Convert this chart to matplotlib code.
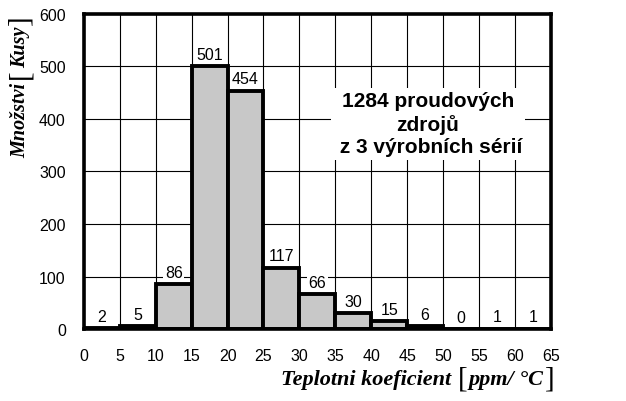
import matplotlib
matplotlib.use("Agg")
import matplotlib.pyplot as plt

# data
bin_edges = [0, 5, 10, 15, 20, 25, 30, 35, 40, 45, 50, 55, 60, 65]
counts = [2, 5, 86, 501, 454, 117, 66, 30, 15, 6, 0, 1, 1]
y_ticks = [0, 100, 200, 300, 400, 500, 600]
note = "1284 proudových\nzdrojů\n z 3 výrobních sérií"

plt.rcParams["font.family"] = ["Liberation Sans", "DejaVu Sans"]

fig = plt.figure(figsize=(6.26, 4.02), dpi=100)
ax = fig.add_axes([0.134, 0.179, 0.746, 0.784])

lefts = bin_edges[:-1]
widths = [bin_edges[i + 1] - bin_edges[i] for i in range(len(lefts))]
bars = ax.bar(lefts, counts, width=widths, align="edge", color="#c8c8c8",
              edgecolor="black", linewidth=2.8, zorder=3)

for b, c in zip(bars, counts):
    ax.annotate(str(c), (b.get_x() + b.get_width() / 2, c), xytext=(0, 3),
                textcoords="offset points", ha="center", va="bottom",
                fontsize=11.5, zorder=4,
                bbox=dict(boxstyle="square,pad=0.1", fc="white", ec="none"))

ax.set_xlim(0, 65)
ax.set_ylim(0, 600)
ax.set_xticks(bin_edges)
ax.set_yticks(y_ticks)
ax.tick_params(length=0, labelsize=11.5)
ax.tick_params(axis="x", pad=14)
ax.tick_params(axis="y", pad=13)
ax.grid(True, color="black", linewidth=0.8, zorder=0)
ax.set_axisbelow(True)
for s in ax.spines.values():
    s.set_linewidth(2.6)
    s.set_zorder(5)

ax.text(0.737, 0.652, note, transform=ax.transAxes, ha="center", va="center",
        fontsize=15, fontweight="bold", linespacing=1.25, zorder=6,
        bbox=dict(boxstyle="square,pad=0.15", fc="white", ec="none"))

# axis labels: bold italic serif words with tall thin brackets
lab = dict(family="Liberation Serif", fontweight="bold", style="italic", fontsize=16)
brk = dict(family="Liberation Serif", fontsize=21)

# x label, built from right to left
prev = fig.text(555 / 626, 1 - 380 / 402, "]", ha="right", va="center", **brk)
for s, kw in [("ppm/ °C", lab), ("[", brk), ("Teplotni koeficient ", lab)]:
    prev = ax.annotate(s, xy=(0, 0.5), xycoords=prev, xytext=(-1, 0),
                       textcoords="offset points", ha="right", va="center",
                       annotation_clip=False, **kw)

# y label, built from bottom to top
ylab = dict(lab, fontsize=14.5)
prev = fig.text(20 / 626, 1 - 158 / 402, "Množstvi", rotation=90,
                ha="center", va="bottom", **ylab)
for s, kw, gap in [("[", brk, 3), ("Kusy", ylab, 1), ("]", brk, 1)]:
    prev = ax.annotate(s, xy=(0.5, 1), xycoords=prev, xytext=(0, gap),
                       textcoords="offset points", ha="center", va="bottom",
                       rotation=90, annotation_clip=False, **kw)

fig.savefig("out.png", dpi=100)
